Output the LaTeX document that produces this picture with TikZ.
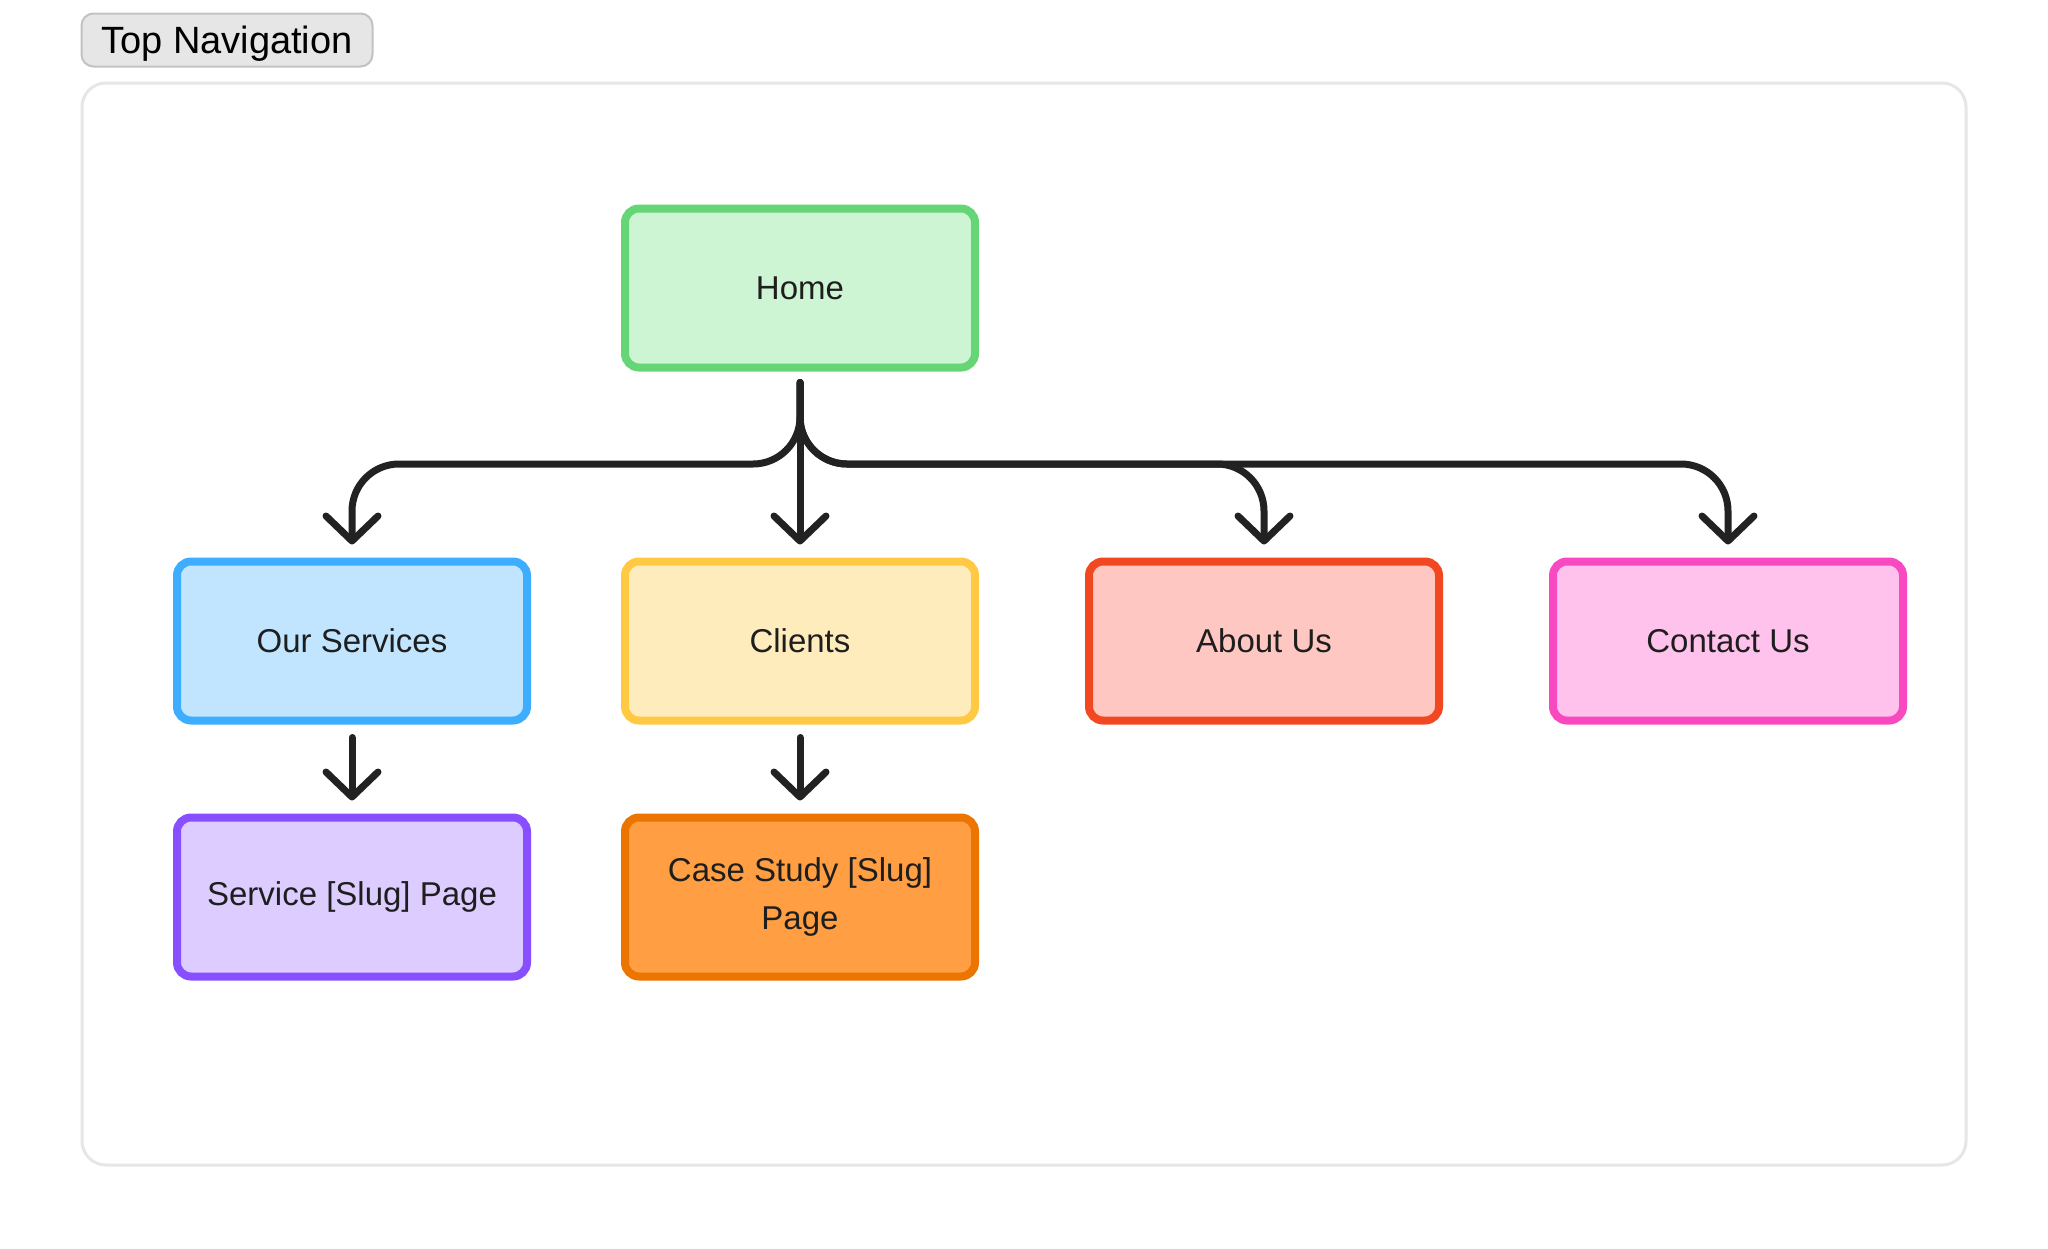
\documentclass[tikz,border=0pt]{standalone}
\usepackage{fontspec}
\setmainfont{Liberation Sans}
\usetikzlibrary{arrows.meta}
\definecolor{txt}{HTML}{1E1E1E}
\definecolor{lnk}{HTML}{222222}
\definecolor{frm}{HTML}{E6E6E6}
\definecolor{tagfill}{HTML}{E6E6E6}
\definecolor{tagline}{HTML}{C2C2C2}
\definecolor{gF}{HTML}{CDF4D3}\definecolor{gD}{HTML}{66D575}
\definecolor{bF}{HTML}{C2E5FF}\definecolor{bD}{HTML}{3DADFF}
\definecolor{yF}{HTML}{FFECBD}\definecolor{yD}{HTML}{FFC943}
\definecolor{rF}{HTML}{FFC7C2}\definecolor{rD}{HTML}{F24822}
\definecolor{pF}{HTML}{FFC2EC}\definecolor{pD}{HTML}{F849C1}
\definecolor{vF}{HTML}{DCCCFF}\definecolor{vD}{HTML}{874FFF}
\definecolor{oF}{HTML}{FF9E42}\definecolor{oD}{HTML}{EB7500}
\begin{document}
\begin{tikzpicture}[x=1pt,y=-1pt,
  pagebox/.style={draw=#1D, fill=#1F, line width=8pt, rounded corners=14pt,
    minimum width=350pt, minimum height=159pt, outer sep=0pt, inner sep=0pt,
    text=txt, font=\fontsize{33}{48}\selectfont, align=center},
  conn/.style={draw=lnk, line width=7pt, line cap=round, line join=round,
    rounded corners=47pt,
    -{Straight Barb[length=25pt,width=52pt,round]}}
]
\useasboundingbox (0,0) rectangle (2048,1248);
% frame
\draw[frm, line width=3pt, rounded corners=24pt] (82,83) rectangle (1966,1165);
\node[draw=tagline, fill=tagfill, line width=2pt, rounded corners=12pt,
  minimum width=291pt, minimum height=53pt, inner sep=0pt, outer sep=0pt,
  text depth=0pt, font=\fontsize{38}{44}\selectfont, text=black] (tag) at (227,40) {Top Navigation};
% nodes
\node[pagebox=g] (home) at (800,288) {Home};
\node[pagebox=b] (svc) at (352,641) {Our Services};
\node[pagebox=y] (cli) at (800,641) {Clients};
\node[pagebox=r] (abt) at (1264,641) {About Us};
\node[pagebox=p] (con) at (1728,641) {Contact Us};
\node[pagebox=v] (svcs) at (352,897) {Service [Slug] Page};
\node[pagebox=o] (cs) at (800,897) {Case Study [Slug]\\Page};
% connectors
\coordinate (bus) at (800,464);
\draw[conn, shorten <=15pt, shorten >=17pt] (home.south) -- (bus) -| (svc.north);
\draw[conn, shorten <=15pt, shorten >=17pt] (home.south) -- (cli.north);
\draw[conn, shorten <=15pt, shorten >=17pt] (home.south) -- (bus) -| (abt.north);
\draw[conn, shorten <=15pt, shorten >=17pt] (home.south) -- (bus) -| (con.north);
\draw[conn, shorten <=17pt, shorten >=17pt] (svc.south) -- (svcs.north);
\draw[conn, shorten <=17pt, shorten >=17pt] (cli.south) -- (cs.north);
\end{tikzpicture}
\end{document}
